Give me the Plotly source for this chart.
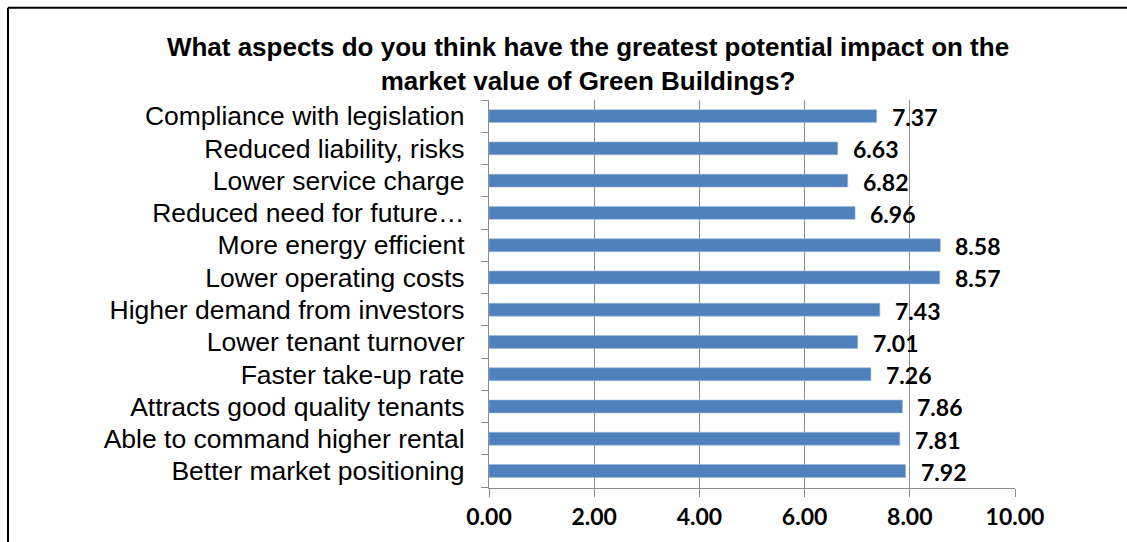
import plotly.graph_objects as go

# Survey results, listed bottom-to-top as drawn on the category axis
aspects = [
    "Better market positioning",
    "Able to command higher rental",
    "Attracts good quality tenants",
    "Faster take-up rate",
    "Lower tenant turnover",
    "Higher demand from investors",
    "Lower operating costs",
    "More energy efficient",
    "Reduced need for future…",
    "Lower service charge",
    "Reduced liability, risks",
    "Compliance with legislation",
]
scores = [7.92, 7.81, 7.86, 7.26, 7.01, 7.43, 8.57, 8.58, 6.96, 6.82, 6.63, 7.37]

x_ticks = [0, 2, 4, 6, 8, 10]
x_tick_labels = ["0.00", "2.00", "4.00", "6.00", "8.00", "10.00"]

W, H = 1127, 542
M_L, M_R, M_T, M_B = 489, 112, 100, 51
GRID = "#8c8c8c"
BAR = "#4F81BD"
NUM_FONT = dict(family="Lato, Carlito, sans-serif", size=23, color="black")
TEXT_FAMILY = "Liberation Sans, Arial, sans-serif"

fig = go.Figure(
    go.Bar(
        x=scores,
        y=aspects,
        orientation="h",
        marker=dict(color=BAR, line=dict(color="#9db9dd", width=0.6)),
        width=0.4,
        hoverinfo="x+y",
    )
)

# Value labels just right of each bar end
for a, v in zip(aspects, scores):
    fig.add_annotation(
        x=v, y=a, xref="x", yref="y",
        text=f"<b>{v:.2f}</b>",
        showarrow=False, xanchor="left", yanchor="middle",
        xshift=13, yshift=-1,
        font=NUM_FONT,
    )

# Outer frame (left and top edges fall inside the view)
pw = W - M_L - M_R
ph = H - M_T - M_B
px = lambda p: (p - M_L) / pw
py = lambda p: (H - M_B - p) / ph
fig.add_shape(type="line", xref="paper", yref="paper",
              x0=px(8), x1=px(W + 5), y0=py(7), y1=py(7),
              line=dict(color="black", width=2))
fig.add_shape(type="line", xref="paper", yref="paper",
              x0=px(8), x1=px(8), y0=py(7), y1=py(H + 5),
              line=dict(color="black", width=2))

fig.update_layout(
    width=W, height=H,
    margin=dict(l=M_L, r=M_R, t=M_T, b=M_B, pad=0),
    paper_bgcolor="white", plot_bgcolor="white",
    showlegend=False,
    title=dict(
        text="<b>What aspects do you think have the greatest potential impact on the<br>market value of Green Buildings?</b>",
        x=588 / W, xanchor="center",
        y=1 - 56 / H, yanchor="top",
        font=dict(family=TEXT_FAMILY, size=26, color="black"),
    ),
    xaxis=dict(
        range=[0, 10],
        tickvals=x_ticks, ticktext=[f"<b>{t}</b>" for t in x_tick_labels],
        tickfont=NUM_FONT,
        showgrid=True, gridcolor=GRID, gridwidth=1.3,
        showline=True, linecolor=GRID, linewidth=1.3,
        ticks="outside", ticklen=8, tickcolor=GRID, tickwidth=1.3,
        zeroline=False,
    ),
    yaxis=dict(
        type="category",
        tickfont=dict(family=TEXT_FAMILY, size=26.5, color="black"),
        showgrid=False,
        showline=True, linecolor=GRID, linewidth=1.3,
        ticks="outside", ticklen=7, tickcolor=GRID, tickwidth=1.3,
        tickson="boundaries",
        ticklabelstandoff=18,
    ),
)

fig.write_html("out.html")
